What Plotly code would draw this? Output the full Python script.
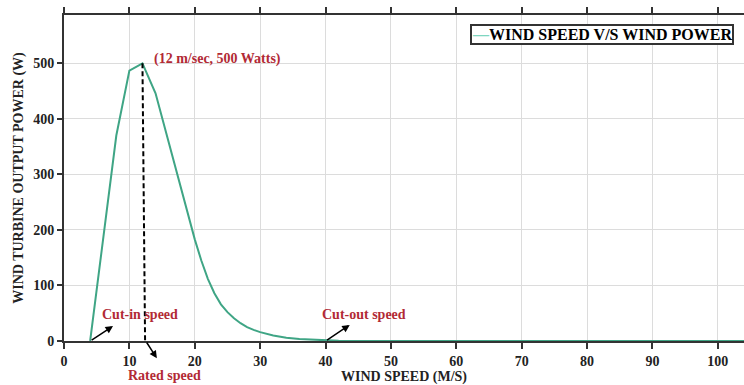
import plotly.graph_objects as go

wind_speed = [4, 6, 8, 10, 12, 14, 16, 18, 19, 20, 21, 22, 23, 24, 25, 26, 27, 28, 29, 30,
              32, 34, 36, 38, 40, 42, 45, 50, 60, 70, 80, 90, 100, 104]
power = [0, 185, 370, 487, 500, 446, 358, 272, 226, 183, 145, 112, 86, 66, 52, 41, 32, 25, 20, 16,
         10, 6, 3.5, 2, 0.8, 0.3, 0, 0, 0, 0, 0, 0, 0, 0]

x_ticks = [0, 10, 20, 30, 40, 50, 60, 70, 80, 90, 100]
y_ticks = [0, 100, 200, 300, 400, 500]

series_name = "WIND SPEED V/S WIND POWER"
rated = (12, 500)
cut_in = 4
cut_out = 40

red = "#b22a35"
serif = "Liberation Serif"
line_color = "#3fa585"

fig = go.Figure()
fig.add_trace(go.Scatter(x=wind_speed, y=power, mode="lines",
                         line=dict(color=line_color, width=2),
                         name=series_name, showlegend=False))

fig.add_shape(type="line", x0=rated[0], y0=rated[1], x1=rated[0] + 0.4, y1=0,
              line=dict(color="black", width=2, dash="5px,3px"))

tf = dict(family=serif, size=14, color=red, weight="bold")
fig.add_annotation(x=23.5, y=507, text="(12 m/sec, 500 Watts)", showarrow=False, font=tf)
fig.add_annotation(x=11.6, y=48, text="Cut-in speed", showarrow=False, font=tf)
fig.add_annotation(x=45.9, y=48, text="Cut-out speed", showarrow=False, font=tf)
fig.add_annotation(x=15.4, xref="x", y=-0.106, yref="paper", text="Rated speed",
                   xanchor="center", yanchor="middle", showarrow=False, font=tf)

arrow = dict(showarrow=True, arrowhead=2, arrowsize=1, arrowwidth=1.5, arrowcolor="black",
             axref="x", ayref="y", text="")
fig.add_annotation(x=7.5, y=27, ax=cut_in, ay=0, **arrow)
fig.add_annotation(x=43.7, y=29, ax=cut_out, ay=0, **arrow)
fig.add_annotation(x=14.2, y=-31, ax=12.5, ay=0, **arrow)

# legend box
fig.add_annotation(x=0.791, y=0.939, xref="paper", yref="paper",
                   xanchor="center", yanchor="middle",
                   text="<span style='color:#7fd6c0'>—</span>" + series_name,
                   showarrow=False, bordercolor="#333", borderwidth=2, borderpad=0,
                   bgcolor="white",
                   font=dict(family=serif, size=16, color="black", weight="bold"))

axfont = dict(family=serif, size=14, color="#222", weight="bold")
fig.update_xaxes(range=[0, 104], tickvals=x_ticks, showgrid=True, gridcolor="#dcdcdc",
                 showline=True, linecolor="#333", linewidth=2, mirror="ticks",
                 ticks="outside", ticklen=6, tickwidth=2, tickcolor="#333",
                 tickfont=axfont, zeroline=False,
                 title=dict(text="WIND SPEED (M/S)", font=axfont, standoff=2))
fig.update_yaxes(range=[0, 587], tickvals=y_ticks, showgrid=True, gridcolor="#dcdcdc",
                 showline=True, linecolor="#333", linewidth=2,
                 ticks="outside", ticklen=5, tickwidth=2, tickcolor="#333",
                 tickfont=axfont, zeroline=False,
                 title=dict(text="WIND TURBINE OUTPUT POWER (W)", font=axfont, standoff=6))

fig.update_layout(
    width=744, height=385,
    margin=dict(l=64, r=0, t=15, b=44),
    paper_bgcolor="white", plot_bgcolor="white",
    showlegend=False,
)

fig.write_html("out.html")
